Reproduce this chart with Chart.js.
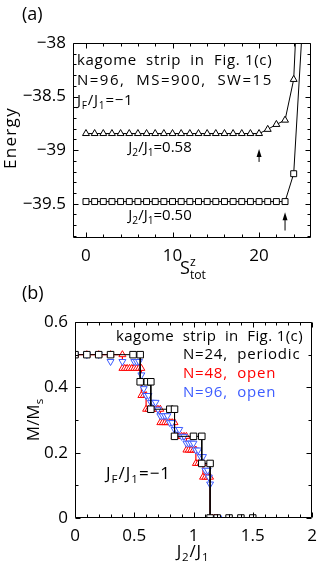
<!DOCTYPE html>
<html>
<head>
<meta charset="utf-8">
<script src="https://cdn.jsdelivr.net/npm/chart.js@4"></script>
<style>
  body { margin: 0; background: #fff; }
  #wrap { position: relative; width: 327px; height: 561px; }
  canvas { position: absolute; left: 0; }
  #ca { top: 0; }
  #cb { top: 280px; }
</style>
</head>
<body>
<div id="wrap">
  <canvas id="ca" width="327" height="280"></canvas>
  <canvas id="cb" width="327" height="281"></canvas>
</div>
<script>
const FONT = '"Open Sans", "DejaVu Sans", sans-serif';

// ---- panel (a): energy vs S^z_tot ----
const stot = [0, 1, 2, 3, 4, 5, 6, 7, 8, 9, 10, 11, 12, 13, 14, 15, 16, 17, 18, 19, 20, 21, 22, 23, 24, 25];
const eJ058 = [-38.845, -38.845, -38.845, -38.845, -38.845, -38.845, -38.845, -38.845, -38.845, -38.845,
  -38.845, -38.845, -38.845, -38.845, -38.845, -38.845, -38.845, -38.845, -38.845, -38.845,
  -38.845, -38.806, -38.76, -38.72, -38.34, -36.6];
const eJ050 = [-39.48, -39.48, -39.48, -39.48, -39.48, -39.48, -39.48, -39.48, -39.48, -39.48,
  -39.48, -39.48, -39.48, -39.48, -39.48, -39.48, -39.48, -39.48, -39.48, -39.48,
  -39.48, -39.48, -39.48, -39.48, -39.22, -37.85];
const arrowsA = [[20, -39.11, -38.99], [23, -39.75, -39.58]]; // x, tail, head
const xTicksA = [0, 10, 20];
const xMinorA = [2, 4, 6, 8, 12, 14, 16, 18, 22, 24];
const yTicksA = [-39.5, -39, -38.5, -38];
const yMinorA = [-39.8, -39.7, -39.6, -39.4, -39.3, -39.2, -39.1, -38.9, -38.8, -38.7, -38.6, -38.4, -38.3, -38.2, -38.1];

// ---- panel (b): M/Ms vs J2/J1 ----
const j24 = [0, 0.1, 0.2, 0.3, 0.49, 0.55, 0.55, 0.61, 0.64, 0.64, 0.8, 0.84, 0.84, 1.0, 1.07, 1.07, 1.14, 1.14, 1.2, 1.3, 1.4, 1.5];
const m24 = [0.5, 0.5, 0.5, 0.5, 0.5, 0.5, 0.417, 0.417, 0.417, 0.333, 0.333, 0.333, 0.25, 0.25, 0.25, 0.167, 0.167, 0, 0, 0, 0, 0];
const j48 = [0, 0.1, 0.2, 0.3, 0.4,
  0.4, 0.42, 0.44, 0.46, 0.48, 0.5, 0.52, 0.54, 0.56,
  0.56, 0.58, 0.6,
  0.6, 0.62, 0.64, 0.66, 0.68, 0.7, 0.72,
  0.72, 0.74, 0.76, 0.78, 0.8, 0.82, 0.84,
  0.84, 0.86, 0.88, 0.9, 0.92, 0.94,
  0.94, 0.96, 0.98, 1.0, 1.02,
  1.02, 1.04, 1.06, 1.08,
  1.08, 1.1, 1.12, 1.14,
  1.14, 1.16, 1.18, 1.2];
const m48 = [0.5, 0.5, 0.5, 0.5, 0.5,
  0.458, 0.458, 0.458, 0.458, 0.458, 0.458, 0.458, 0.458, 0.458,
  0.375, 0.375, 0.375,
  0.333, 0.333, 0.333, 0.333, 0.333, 0.333, 0.333,
  0.292, 0.292, 0.292, 0.292, 0.292, 0.292, 0.292,
  0.25, 0.25, 0.25, 0.25, 0.25, 0.25,
  0.208, 0.208, 0.208, 0.208, 0.208,
  0.167, 0.167, 0.167, 0.167,
  0.125, 0.125, 0.125, 0.125,
  0, 0, 0, 0];
const j96 = [0, 0.1, 0.2, 0.3, 0.4, 0.5, 0.52, 0.54, 0.56, 0.57, 0.58, 0.6, 0.62, 0.64, 0.66, 0.68, 0.7,
  0.72, 0.74, 0.76, 0.78, 0.8, 0.82, 0.84, 0.86, 0.88, 0.9, 0.92, 0.94, 0.96, 0.98, 1.0,
  1.02, 1.04, 1.06, 1.08, 1.1, 1.12, 1.13, 1.14, 1.15, 1.17, 1.19, 1.21];
const m96 = [0.5, 0.5, 0.5, 0.479, 0.479, 0.479, 0.479, 0.479, 0.438, 0.417, 0.396, 0.375, 0.375, 0.354, 0.354, 0.354, 0.333,
  0.313, 0.313, 0.313, 0.313, 0.292, 0.292, 0.271, 0.271, 0.271, 0.25, 0.25, 0.229, 0.229, 0.229, 0.229,
  0.208, 0.208, 0.188, 0.188, 0.146, 0.146, 0.125, 0.104, 0, 0, 0, 0];
const xTicksB = [0, 0.5, 1, 1.5, 2];
const xMinorB = [0.1, 0.2, 0.3, 0.4, 0.6, 0.7, 0.8, 0.9, 1.1, 1.2, 1.3, 1.4, 1.6, 1.7, 1.8, 1.9];
const yTicksB = [0, 0.2, 0.4, 0.6];
const yMinorB = [0.1, 0.3, 0.5];

const RED = '#ff0000';
const BLUE = '#3d5cff';

Chart.defaults.font.family = FONT;
Chart.defaults.color = '#000';

const fmt = v => (v < 0 ? '\u2212' : '') + String(Math.abs(v));
const pts = (xs, ys) => xs.map((x, i) => ({ x: x, y: ys[i] }));

// text with _{sub} and ^{sup}; sp = letter spacing in px
function richText(ctx, str, x, y, size, color, align, rotate, sp) {
  const parts = str.match(/\^\{[^}]*\}|_\{[^}]*\}|[^_^]+/g);
  const sm = size * 0.68;
  const segs = [];
  let cx = 0, supX = null, supEnd = 0;
  ctx.save();
  ctx.letterSpacing = (sp || 0) + 'px';
  parts.forEach(p => {
    let t = p, fs = size, dy = 0, kind = 'n';
    if (p[0] === '^') { t = p.slice(2, -1); fs = sm; dy = -0.45 * size; kind = 'sup'; }
    else if (p[0] === '_') { t = p.slice(2, -1); fs = sm; dy = 0.25 * size; kind = 'sub'; }
    ctx.font = fs + 'px ' + FONT;
    const w = ctx.measureText(t).width;
    let sx = cx;
    if (kind === 'sub' && supX !== null) sx = supX;
    segs.push({ t, fs, dy, sx });
    if (kind === 'sup') { supX = cx; supEnd = cx + w; cx += w; }
    else if (kind === 'sub' && supX !== null) { cx = Math.max(supEnd, sx + w); supX = null; }
    else { cx += w; supX = null; }
  });
  const off = align === 'center' ? -cx / 2 : align === 'right' ? -cx : 0;
  ctx.translate(x, y);
  if (rotate) ctx.rotate(-Math.PI / 2);
  ctx.fillStyle = color;
  ctx.textBaseline = 'alphabetic';
  ctx.textAlign = 'left';
  segs.forEach(s => {
    ctx.font = s.fs + 'px ' + FONT;
    ctx.fillText(s.t, off + s.sx, 0.36 * size + s.dy);
  });
  ctx.restore();
}

// box around the plot with inward ticks on all four sides
function makeFrame(xMajor, xMinor, yMajor, yMinor) {
  return {
    id: 'frame',
    afterDatasetsDraw(chart) {
      const { ctx, chartArea: a, scales } = chart;
      const L = Math.round(a.left) + 0.5, R = Math.round(a.right) - 0.5;
      const T = Math.round(a.top) + 0.5, B = Math.round(a.bottom) - 0.5;
      ctx.save();
      ctx.strokeStyle = '#000';
      ctx.lineWidth = 1;
      ctx.beginPath();
      ctx.rect(L, T, R - L, B - T);
      const xt = (v, len) => {
        const px = Math.round(scales.x.getPixelForValue(v)) + 0.5;
        ctx.moveTo(px, B); ctx.lineTo(px, B - len);
        ctx.moveTo(px, T); ctx.lineTo(px, T + len);
      };
      const yt = (v, len) => {
        const py = Math.round(scales.y.getPixelForValue(v)) + 0.5;
        ctx.moveTo(L, py); ctx.lineTo(L + len, py);
        ctx.moveTo(R, py); ctx.lineTo(R - len, py);
      };
      xMajor.forEach(v => xt(v, 5));
      xMinor.forEach(v => xt(v, 3));
      yMajor.forEach(v => yt(v, 5));
      yMinor.forEach(v => yt(v, 3));
      ctx.stroke();
      ctx.restore();
    }
  };
}

// [text, x, y, size, color, align, rotated, letterSpacing]
function makeLabels(list) {
  return {
    id: 'labels',
    afterDraw(chart) {
      list.forEach(l => richText(chart.ctx, l[0], l[1], l[2], l[3], l[4] || '#000', l[5] || 'left', l[6], l[7]));
    }
  };
}

const arrowPlugin = {
  id: 'arrows',
  afterDatasetsDraw(chart) {
    const { ctx, scales: { x, y } } = chart;
    ctx.save();
    ctx.strokeStyle = '#000';
    ctx.fillStyle = '#000';
    ctx.lineWidth = 1;
    arrowsA.forEach(a => {
      const px = x.getPixelForValue(a[0]);
      const y0 = y.getPixelForValue(a[1]);
      const y1 = y.getPixelForValue(a[2]);
      ctx.beginPath();
      ctx.moveTo(px, y0); ctx.lineTo(px, y1 + 5);
      ctx.stroke();
      ctx.beginPath();
      ctx.moveTo(px, y1); ctx.lineTo(px - 2.5, y1 + 8); ctx.lineTo(px + 2.5, y1 + 8);
      ctx.closePath();
      ctx.fill();
    });
    ctx.restore();
  }
};

function axis(min, max, ticks, size, pad, fit) {
  return {
    type: 'linear', min: min, max: max,
    grid: { display: false, drawTicks: false },
    border: { display: false },
    afterBuildTicks: s => { s.ticks = ticks.map(v => ({ value: v })); },
    afterFit: fit,
    ticks: { font: { size: size }, color: '#000', padding: pad, autoSkip: false, maxRotation: 0, callback: v => fmt(v) }
  };
}

const common = {
  responsive: false,
  animation: false,
  events: [],
  plugins: { legend: { display: false }, tooltip: { enabled: false } }
};

new Chart(document.getElementById('ca'), {
  type: 'scatter',
  data: {
    datasets: [
      {
        data: pts(stot, eJ058), showLine: true, borderColor: '#000', borderWidth: 1,
        pointStyle: 'triangle', pointRadius: 4, pointBackgroundColor: '#fff', pointBorderColor: '#000', pointBorderWidth: 1
      },
      {
        data: pts(stot, eJ050), showLine: true, borderColor: '#000', borderWidth: 1,
        pointStyle: 'rect', pointRadius: 4.2, pointBackgroundColor: '#fff', pointBorderColor: '#000', pointBorderWidth: 1
      }
    ]
  },
  options: Object.assign({}, common, {
    layout: { padding: { top: 43, right: 16, bottom: 0, left: 0 } },
    scales: {
      x: axis(-1.5, 26, xTicksA, 17, 8, s => { s.height = 42; }),
      y: axis(-39.82, -38, yTicksA, 17, 7, s => { s.width = 73; })
    }
  }),
  plugins: [makeFrame(xTicksA, xMinorA, yTicksA, yMinorA), arrowPlugin, makeLabels([
    ['(a)', 22, 14, 18],
    ['kagome  strip  in  Fig. 1(c)', 77, 60, 15, '#000', 'left', false, 0.7],
    ['N=96,  MS=900,  SW=15', 77, 80, 15, '#000', 'left', false, 1.5],
    ['J_{F}/J_{1}=\u22121', 77, 100, 15, '#000', 'left', false, 0.75],
    ['J_{2}/J_{1}=0.58', 160, 147, 15, '#000', 'center'],
    ['J_{2}/J_{1}=0.50', 160, 215, 15, '#000', 'center'],
    ['Energy', 10, 138, 17, '#000', 'center', true, 1.3],
    ['S^{z}_{tot}', 193, 268, 18, '#000', 'center']
  ])]
});

new Chart(document.getElementById('cb'), {
  type: 'scatter',
  data: {
    datasets: [
      {
        data: pts(j24, m24), showLine: true, borderColor: '#000', borderWidth: 1,
        pointStyle: 'rect', pointRadius: 4.6, pointBackgroundColor: '#fff', pointBorderColor: '#000', pointBorderWidth: 1
      },
      {
        data: pts(j96, m96), showLine: false,
        pointStyle: 'triangle', rotation: 180, pointRadius: 4, pointBackgroundColor: '#fff', pointBorderColor: BLUE, pointBorderWidth: 1
      },
      {
        data: pts(j48, m48), showLine: true, borderColor: RED, borderWidth: 1.2,
        pointStyle: 'triangle', pointRadius: 4, pointBackgroundColor: '#fff', pointBorderColor: RED, pointBorderWidth: 1
      }
    ]
  },
  options: Object.assign({}, common, {
    layout: { padding: { top: 42, right: 15, bottom: 0, left: 0 } },
    scales: {
      x: axis(0, 2, xTicksB, 17, 8, s => { s.height = 43; }),
      y: axis(0, 0.6, yTicksB, 17, 7, s => { s.width = 75; })
    }
  }),
  plugins: [makeFrame(xTicksB, xMinorB, yTicksB, yMinorB), makeLabels([
    ['(b)', 22, 13, 18],
    ['kagome  strip  in  Fig. 1(c)', 303, 56, 15, '#000', 'right', false, 0.4],
    ['N=24,  periodic', 183, 74, 15, '#000', 'left', false, 0.8],
    ['N=48,  open', 183, 93, 15, RED, 'left', false, 0.8],
    ['N=96,  open', 183, 112, 15, BLUE, 'left', false, 0.8],
    ['J_{F}/J_{1}=\u22121', 106, 193, 17, '#000', 'left', false, 1],
    ['J_{2}/J_{1}', 193, 271, 17, '#000', 'center', false, 0.8],
    ['M/M_{s}', 33, 140, 17, '#000', 'center', true]
  ])]
});
</script>
</body>
</html>
